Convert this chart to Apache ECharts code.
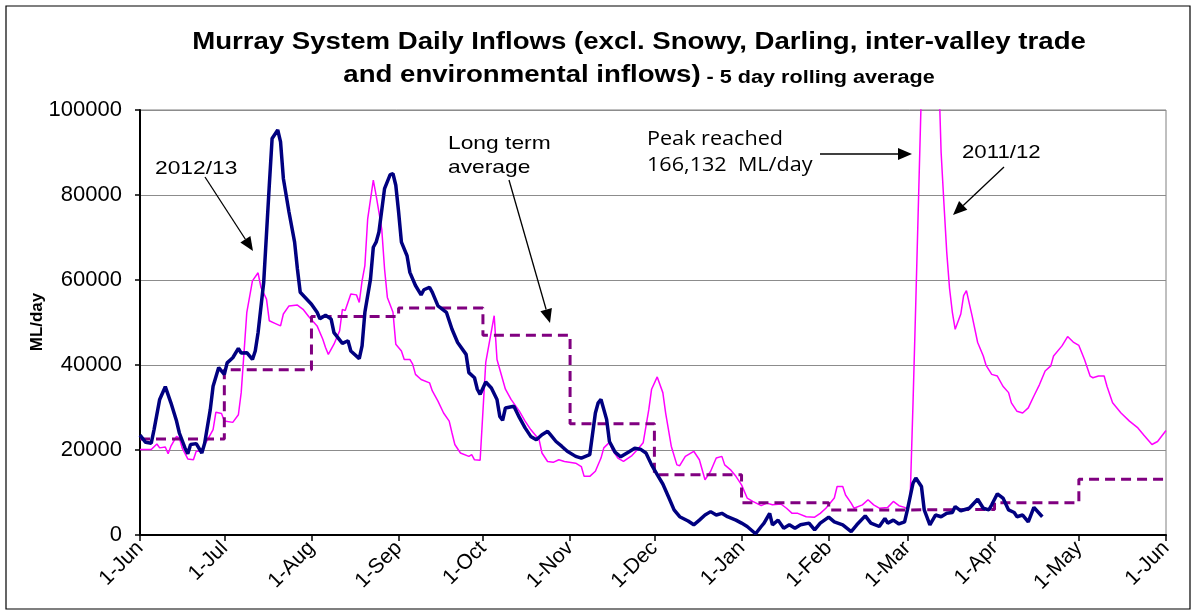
<!DOCTYPE html>
<html>
<head>
<meta charset="utf-8">
<title>Murray System Daily Inflows</title>
<script src="https://cdn.jsdelivr.net/npm/echarts@6/dist/echarts.min.js"></script>
<style>
  html, body { margin: 0; padding: 0; background: #fff; }
  #chart { width: 1194px; height: 613px; }
</style>
</head>
<body>
<div id="chart"></div>
<script>
// x values are days counted from 1 June
const monthLabels = ['1-Jun', '1-Jul', '1-Aug', '1-Sep', '1-Oct', '1-Nov', '1-Dec',
  '1-Jan', '1-Feb', '1-Mar', '1-Apr', '1-May', '1-Jun']
const monthStartDays = [0, 30, 61, 92, 122, 153, 183, 214, 245, 273, 304, 334, 365]

// 2012/13 (5 day rolling average, ML/day)
const days1213 = [0, 2, 4, 5, 7, 9, 11, 13, 14, 16, 17, 18, 20, 22, 23, 25, 26, 28, 30, 31,
  33, 35, 36, 38, 40, 41, 42, 44, 46, 47, 49, 50, 51, 53, 55, 56, 57, 59, 61, 63,
  64, 66, 68, 69, 72, 74, 75, 78, 79, 80, 82, 83, 84, 85, 87, 89, 90, 91, 92, 93,
  95, 96, 98, 100, 101, 103, 104, 106, 109, 111, 113, 116, 117, 119, 120, 121, 123, 125, 127, 128,
  129, 130, 133, 135, 137, 139, 141, 143, 145, 146, 148, 150, 152, 155, 157, 160, 162, 163, 164, 166,
  167, 169, 171, 174, 176, 178, 180, 182, 184, 186, 188, 190, 192, 195, 197, 199, 201, 203, 205, 207,
  209, 212, 214, 216, 219, 221, 222, 224, 225, 227, 229, 231, 233, 235, 238, 240, 242, 245, 247, 250,
  253, 255, 258, 260, 263, 265, 266, 268, 270, 272, 273, 275, 276, 278, 279, 281, 283, 285, 287, 289,
  290, 292, 295, 298, 300, 302, 303, 305, 307, 309, 311, 312, 314, 316, 318, 321]
const flow1213 = [23500, 21800, 21600, 24800, 31900, 34900, 31100, 26800, 24000, 20500, 19100, 21300, 21500, 19300, 21600, 29500, 35000, 39400, 37800, 40500,
  41700, 43900, 42800, 42900, 41300, 43300, 47600, 59400, 82300, 93300, 95300, 92500, 83900, 76000, 68900, 62600, 57100, 55700, 54300, 52400,
  50900, 51700, 50800, 47600, 45100, 45700, 43300, 41500, 44500, 52400, 60200, 67700, 68900, 71300, 81500, 84800, 85000, 82300, 76000, 68900,
  65700, 61800, 58700, 56500, 57700, 58300, 57100, 53900, 52400, 48400, 45300, 42500, 38200, 37000, 34300, 33100, 36000, 34600, 31900, 27900,
  27000, 29900, 30300, 27600, 25200, 23200, 22400, 23600, 24400, 23600, 22000, 20900, 19700, 18500, 18100, 18900, 28700, 31100, 31900, 27200,
  22000, 19500, 18400, 19600, 20400, 20200, 19300, 16500, 14200, 12000, 9000, 5900, 4300, 3300, 2400, 3500, 4700, 5500, 4700, 5100,
  4300, 3500, 2800, 2000, 300, 2000, 2800, 5100, 2400, 3500, 1600, 2400, 1600, 2400, 2800, 1200, 2800, 4200, 3100, 2400,
  800, 2400, 4500, 2800, 2000, 3900, 2800, 3500, 2600, 3100, 5900, 12200, 13400, 11400, 5900, 2400, 4700, 4300, 5100, 5300,
  6700, 5700, 6300, 8400, 6300, 5900, 7100, 9700, 8700, 5900, 5300, 4300, 4700, 3100, 6500, 4300]

// 2011/12 (5 day rolling average, ML/day), peak 166,132
const days1112 = [0, 4, 6, 7, 9, 10, 11, 13, 14, 15, 17, 19, 20, 21, 22, 24, 26, 27, 29, 30,
  33, 35, 36, 37, 38, 40, 42, 43, 45, 46, 48, 50, 51, 53, 56, 58, 60, 63, 65, 66,
  67, 69, 71, 72, 73, 75, 77, 78, 79, 80, 81, 83, 84, 86, 87, 88, 90, 91, 93, 94,
  96, 97, 98, 100, 103, 104, 106, 108, 110, 111, 112, 114, 117, 118, 119, 121, 123, 126, 127, 130,
  132, 135, 137, 139, 142, 143, 145, 147, 149, 151, 155, 157, 158, 160, 162, 164, 165, 167, 168, 170,
  172, 175, 177, 179, 181, 182, 184, 186, 187, 189, 191, 192, 194, 197, 199, 201, 203, 205, 207, 208,
  210, 212, 214, 216, 218, 221, 223, 225, 228, 230, 232, 234, 237, 240, 242, 244, 247, 248, 250, 251,
  253, 254, 257, 259, 261, 263, 266, 268, 270, 272, 273, 274, 275, 276, 277, 278, 281, 284, 285, 286,
  287, 288, 289, 290, 292, 293, 294, 296, 298, 300, 301, 303, 305, 307, 309, 310, 312, 314, 316, 318,
  320, 322, 324, 325, 328, 330, 332, 334, 336, 338, 339, 341, 343, 344, 346, 349, 352, 355, 357, 360,
  362, 365]
const flow1112 = [20100, 20100, 21400, 20500, 20700, 19100, 20900, 23200, 22800, 20500, 17900, 17700, 19700, 19700, 20200, 22400, 24800, 28900, 28600, 26800,
  26500, 28300, 33500, 42900, 52400, 59800, 61700, 58300, 55500, 50400, 49800, 49200, 52000, 53900, 54100, 53100, 51400, 49200, 46100, 44100,
  42500, 44900, 48000, 53100, 52800, 56700, 56500, 54700, 59800, 63400, 74400, 83500, 79900, 72000, 62600, 55900, 52400, 44900, 43300, 41300,
  41300, 40200, 37800, 36600, 35800, 33900, 31500, 28700, 26800, 24000, 21300, 19300, 18500, 18900, 17700, 17600, 40600, 51600, 41300, 34300,
  31900, 29100, 26800, 24800, 22400, 19300, 17300, 17100, 17700, 17300, 16900, 16100, 13800, 13800, 15000, 18100, 20500, 21800, 20100, 18100,
  17300, 18700, 20100, 21700, 29500, 34300, 37200, 33500, 28700, 20900, 16500, 16300, 18500, 19700, 17700, 13000, 15000, 18100, 18500, 16500,
  15400, 13800, 11800, 8700, 7900, 6900, 7500, 7100, 7300, 6300, 5100, 5100, 4300, 4200, 5100, 6300, 8700, 11400, 11400, 9400,
  7500, 6300, 7100, 8300, 7100, 6300, 6500, 7900, 6900, 6500, 6100, 9000, 31000, 55000, 80000, 105000, 166132, 112000, 90000, 78000,
  66500, 58000, 52400, 48400, 52000, 56300, 57500, 51600, 45300, 42100, 39900, 37800, 37400, 35000, 33500, 31100, 29100, 28700, 29900, 32700,
  35400, 38600, 39800, 42100, 44500, 46700, 45400, 44600, 41300, 37400, 37000, 37400, 37400, 35000, 31100, 28700, 26800, 25200, 23600, 21300,
  22000, 24600]

// long term average, one value per month (Jun..May)
const ltaDays = [0, 30, 61, 92, 122, 153, 183, 214, 245, 273, 304, 334, 364]
const ltaFlow = [22600, 38900, 51400, 53400, 47000, 26200, 14200, 7600, 5900, 6000, 7600, 13100, 13100]

const pairs = (xs, ys) => xs.map((x, i) => [x, ys[i]])

const chart = echarts.init(document.getElementById('chart'))

// 箭头
const arrow = (x1, y1, x2, y2) => {
  const ang = Math.atan2(y2 - y1, x2 - x1)
  const len = 14
  const half = 6
  const bx = x2 - len * Math.cos(ang)
  const by = y2 - len * Math.sin(ang)
  const px = -Math.sin(ang) * half
  const py = Math.cos(ang) * half
  return [
    { type: 'line', shape: { x1: x1, y1: y1, x2: bx, y2: by }, style: { stroke: '#000', lineWidth: 1.3 }, z: 100 },
    { type: 'polygon', shape: { points: [[x2, y2], [bx + px, by + py], [bx - px, by - py]] }, style: { fill: '#000' }, z: 100 }
  ]
}

// the original picture was stretched sideways, so notes get a scaleX
const noteText = (x, y, text, size, family, sx) => ({
  type: 'text',
  x: x,
  y: y,
  scaleX: sx,
  z: 100,
  style: {
    text: text,
    font: size + 'px ' + family,
    fill: '#000',
    lineHeight: size * 1.3
  }
})

const option = {
  backgroundColor: '#fff',
  animation: false,
  grid: {
    left: 140,
    right: 28,
    top: 110,
    bottom: 78,
    show: true,
    borderColor: '#808080',
    borderWidth: 1
  },
  xAxis: {
    type: 'value',
    min: 0,
    max: 365,
    axisLine: { lineStyle: { color: '#000', width: 2 } },
    axisTick: {
      customValues: monthStartDays,
      length: 6,
      lineStyle: { color: '#000', width: 1.5 }
    },
    axisLabel: {
      customValues: monthStartDays,
      formatter: (v) => monthLabels[monthStartDays.indexOf(v)],
      rotate: 45,
      margin: 10,
      color: '#000',
      fontSize: 21,
      fontFamily: 'Liberation Sans'
    },
    splitLine: { show: false }
  },
  yAxis: {
    type: 'value',
    min: 0,
    max: 100000,
    interval: 20000,
    axisLine: { show: true, lineStyle: { color: '#000', width: 2 } },
    axisTick: { show: true, length: 5, lineStyle: { color: '#000', width: 1.5 } },
    axisLabel: {
      color: '#000',
      fontSize: 22,
      margin: 18,
      fontFamily: 'Liberation Sans',
      formatter: (v) => String(v)
    },
    splitLine: { lineStyle: { color: '#8c8c8c', width: 1.2 } }
  },
  graphic: [
    {
      type: 'rect',
      shape: { x: 6, y: 6, width: 1184, height: 603 },
      style: { fill: 'none', stroke: '#000', lineWidth: 1.2 },
      silent: true
    },
    {
      type: 'text',
      x: 639,
      y: 43,
      scaleX: 1.2,
      style: {
        text: 'Murray System Daily Inflows (excl. Snowy, Darling, inter-valley trade',
        font: 'bold 23px Liberation Sans',
        fill: '#000',
        align: 'center',
        verticalAlign: 'middle'
      }
    },
    {
      type: 'text',
      x: 639,
      y: 87,
      scaleX: 1.2,
      style: {
        text: '{a|and environmental inflows)}{b| - 5 day rolling average}',
        align: 'center',
        verticalAlign: 'bottom',
        rich: {
          a: { font: 'bold 23px Liberation Sans', fill: '#000', verticalAlign: 'bottom' },
          b: { font: 'bold 18px Liberation Sans', fill: '#000', verticalAlign: 'bottom' }
        }
      }
    },
    {
      // y axis title
      type: 'text',
      x: 37,
      y: 322,
      rotation: Math.PI / 2,
      style: {
        text: 'ML/day',
        font: 'bold 17px Liberation Sans',
        fill: '#000',
        align: 'center',
        verticalAlign: 'middle'
      }
    },
    noteText(155, 156, '2012/13', 19, 'Liberation Sans', 1.2),
    noteText(448, 131, 'Long term\naverage', 19, 'Liberation Sans', 1.2),
    noteText(647, 126, 'Peak reached\n166,132  ML/day', 20, 'Open Sans', 1.08),
    noteText(962, 140, '2011/12', 19, 'Liberation Sans', 1.17),
    ...arrow(205, 177, 253, 251),
    ...arrow(509, 180, 550, 323),
    ...arrow(820, 154, 912, 154),
    ...arrow(1004, 167, 953, 215)
  ],
  series: [
    {
      name: '2011/12',
      type: 'line',
      data: pairs(days1112, flow1112),
      symbol: 'none',
      clip: true,
      lineStyle: { color: '#ff00ff', width: 1.5 },
      z: 2
    },
    {
      name: 'Long term average',
      type: 'line',
      step: 'end',
      data: pairs(ltaDays, ltaFlow),
      symbol: 'none',
      lineStyle: { color: '#800080', width: 3, type: [10, 6] },
      z: 3
    },
    {
      name: '2012/13',
      type: 'line',
      data: pairs(days1213, flow1213),
      symbol: 'none',
      lineStyle: { color: '#000080', width: 3.5 },
      z: 4
    }
  ]
}

chart.setOption(option)
</script>
</body>
</html>
